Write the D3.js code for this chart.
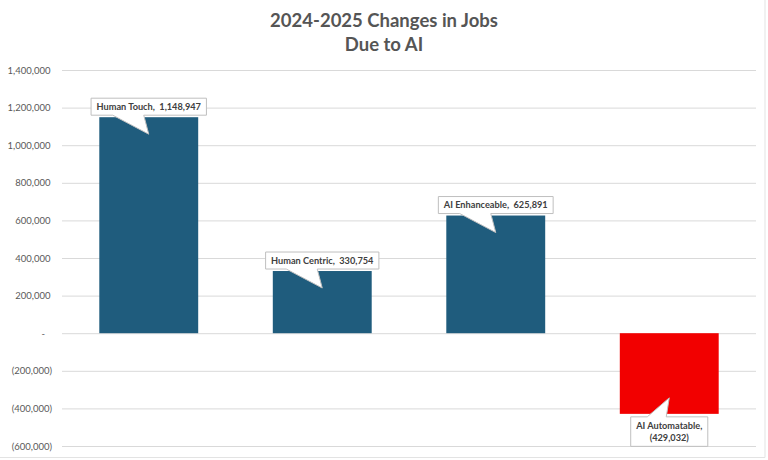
<!DOCTYPE html>
<html>
<head>
<meta charset="utf-8">
<script src="https://cdn.jsdelivr.net/npm/d3@7"></script>
<style>
  body { margin: 0; background: #fff; }
  svg { display: block; font-family: Lato, "Open Sans", sans-serif; }
</style>
</head>
<body>
<svg id="chart" width="768" height="460"></svg>
<script>
const categories = ['Human Touch', 'Human Centric', 'AI Enhanceable', 'AI Automatable'];
const values = [1148947, 330754, 625891, -429032];
const yTicks = [-600000, -400000, -200000, 0, 200000, 400000, 600000, 800000, 1000000, 1200000, 1400000];
const titleLines = ['2024-2025 Changes in Jobs', 'Due to AI'];

const svg = d3.select('#chart');
const margin = { top: 70, left: 62, right: 12, bottom: 14 };
const width = 768 - margin.left - margin.right;
const height = 460 - margin.top - margin.bottom;

const num = d3.format(',');
// accounting style: 0 -> "-", negatives in brackets
const acct = (v) => (v === 0 ? '-' : v < 0 ? `(${num(-v)})` : num(v));

// light chart border, right and bottom
svg.append('path')
  .attr('d', 'M765,0V457.5H0')
  .attr('fill', 'none')
  .attr('stroke', '#e3e3e3');

const title = svg.append('text')
  .attr('text-anchor', 'middle')
  .attr('fill', '#555555')
  .attr('font-weight', 700)
  .attr('font-size', 18.5);
title.selectAll('tspan')
  .data(titleLines)
  .enter().append('tspan')
  .attr('x', 384)
  .attr('y', (d, i) => 27 + i * 23.5)
  .text((d) => d);

const g = svg.append('g')
  .attr('transform', `translate(${margin.left},${margin.top})`);

const x = d3.scaleBand()
  .domain(categories)
  .range([0, width])
  .paddingInner(0.43)
  .paddingOuter(0.215);
const y = d3.scaleLinear()
  .domain([d3.min(yTicks), d3.max(yTicks)])
  .range([height, 0]);

// gridlines
g.append('g')
  .call(d3.axisLeft(y).tickValues(yTicks).tickSize(-width).tickFormat(''))
  .call((a) => a.select('.domain').remove())
  .selectAll('line')
  .attr('stroke', '#d9d9d9');

// y axis labels
g.append('g')
  .call(d3.axisLeft(y).tickValues(yTicks).tickSize(0).tickPadding(10).tickFormat(acct))
  .call((a) => a.select('.domain').remove())
  .selectAll('text')
  .attr('fill', '#595959')
  .attr('font-size', 9.5)
  .attr('font-family', 'Lato, sans-serif')
  .attr('dx', (d) => (d === 0 ? -7 : d > 0 ? -1.5 : 0));

// bars
g.selectAll('.bar')
  .data(values)
  .enter().append('rect')
  .attr('class', 'bar')
  .attr('x', (d, i) => x(categories[i]))
  .attr('width', x.bandwidth())
  .attr('y', (d) => y(Math.max(0, d)))
  .attr('height', (d) => Math.abs(y(d) - y(0)))
  .attr('fill', (d) => (d < 0 ? '#f20000' : '#1f5c7d'));

// callout labels
values.forEach((v, i) => {
  const cx = x(categories[i]) + x.bandwidth() / 2;
  const lines = v < 0
    ? [`${categories[i]},`, acct(v)]
    : [`${categories[i]},  ${acct(v)}`];
  const co = g.append('g');
  const path = co.append('path')
    .attr('fill', '#fff')
    .attr('stroke', '#bfbfbf')
    .attr('stroke-width', 1);
  const txt = co.append('text')
    .attr('text-anchor', 'middle')
    .attr('fill', '#404040')
    .attr('font-size', 9.2)
    .attr('font-weight', 700)
    .style('white-space', 'pre');
  txt.selectAll('tspan')
    .data(lines)
    .enter().append('tspan')
    .attr('x', cx)
    .attr('dy', (d, j) => (j ? 12.5 : 0))
    .text((d) => d);
  const tw = d3.max(txt.selectAll('tspan').nodes(), (n) => n.getComputedTextLength());
  const bw = tw + 11;
  const bh = lines.length * 12.5 + 4.5;
  const left = cx - bw / 2;
  const right = cx + bw / 2;
  if (v >= 0) {
    const bottom = y(v) - 2;
    const top = bottom - bh;
    path.attr('d', `M${left},${top}H${right}V${bottom}H${cx - 5}L${cx},${y(v) + 17}L${cx - 36},${bottom}H${left}Z`);
    txt.attr('y', top + 11.8);
  } else {
    const top = y(v) + 3;
    const bottom = top + bh;
    path.attr('d', `M${left},${top}H${cx - 22}L${cx},${y(v) - 16}L${cx - 3},${top}H${right}V${bottom}H${left}Z`);
    txt.attr('y', top + 11.8);
  }
});
</script>
</body>
</html>
